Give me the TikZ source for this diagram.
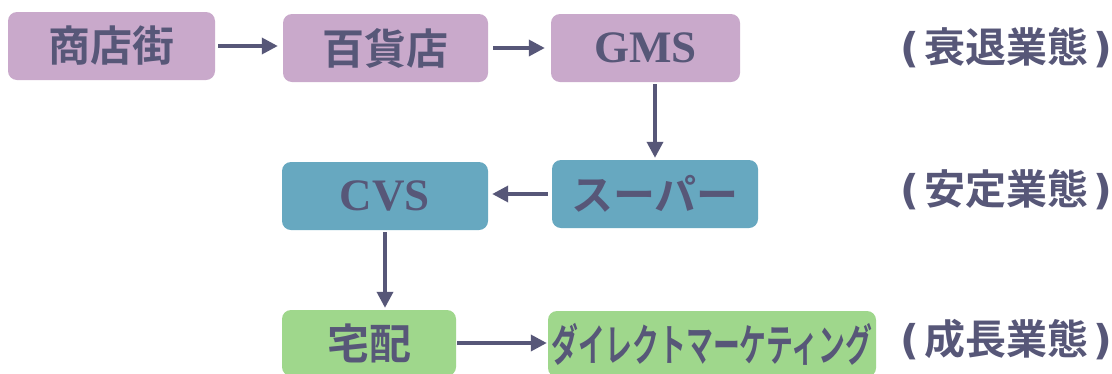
\documentclass[tikz,border=0pt]{standalone}
\usepackage{fontspec}
\usetikzlibrary{arrows.meta}
\newfontfamily\jpfont{Noto Sans CJK JP}[BoldFont={Noto Sans CJK JP Bold}]
\newfontfamily\latsans{DejaVu Sans}
\newfontfamily\enfont{Liberation Serif}
\definecolor{txt}{HTML}{575778}
\definecolor{purp}{HTML}{C9A9CB}
\definecolor{blu}{HTML}{67A8C0}
\definecolor{grn}{HTML}{9FD78C}
\newcommand{\lparen}{{\latsans\bfseries (}\hspace{5pt}}
\newcommand{\rparen}{\hspace{5pt}{\latsans\bfseries )}}
\begin{document}
\begin{tikzpicture}[x=1pt,y=-1pt,
  box/.style={rounded corners=9pt, minimum height=68pt, inner sep=0pt, text=txt, font=\jpfont\bfseries\fontsize{42}{42}\selectfont},
  pbox/.style={box, fill=purp},
  bbox/.style={box, fill=blu},
  gbox/.style={box, fill=grn},
  lbl/.style={text=txt, font=\jpfont\bfseries\fontsize{41}{41}\selectfont, inner sep=0pt},
  arr/.style={draw=txt, line width=3.5pt, -{Triangle[length=16pt,width=16pt]}}]
\clip (0,0) rectangle (1112,373);
\fill[white] (0,0) rectangle (1112,373);
\node[pbox, minimum width=207pt] (shoten) at (111.5,46) {商店街};
\node[pbox, minimum width=205pt] (hyakka) at (385.5,48) {百貨店};
\node[pbox, minimum width=189pt, font=\enfont\bfseries\fontsize{45}{45}\selectfont] (gms) at (645.5,48) {GMS};
\node[bbox, minimum width=206pt] (super) at (655,194) {スーパー};
\node[bbox, minimum width=206pt, font=\enfont\bfseries\fontsize{45}{45}\selectfont] (cvs) at (385,196) {CVS};
\node[gbox, minimum width=174pt, minimum height=66pt] (takuhai) at (369,343) {宅配};
\node[gbox, minimum width=328pt, minimum height=66pt] (direct) at (712,344) {\scalebox{0.64}[1.05]{ダイレクトマーケティング}};
\node[lbl] (l1) at (1006,48) {\lparen 衰退業態\rparen};
\node[lbl] (l2) at (1006,190) {\lparen 安定業態\rparen};
\node[lbl] (l3) at (1006,340) {\lparen 成長業態\rparen};
\draw[arr, shorten <=3pt, shorten >=5pt] (shoten.east) -- (shoten.east -| hyakka.west);
\draw[arr, shorten <=5pt, shorten >=6pt] (hyakka.east) -- (hyakka.east -| gms.west);
\draw[arr, shorten <=2pt, shorten >=2pt] (super.north |- gms.south) -- (super.north);
\draw[arr, shorten <=4pt, shorten >=4pt] (super.west) -- (super.west -| cvs.east);
\draw[arr, shorten <=2pt, shorten >=2pt] (cvs.south) -- (cvs.south |- takuhai.north);
\draw[arr, shorten <=1pt, shorten >=1pt] (takuhai.east) -- (takuhai.east -| direct.west);
\end{tikzpicture}
\end{document}
